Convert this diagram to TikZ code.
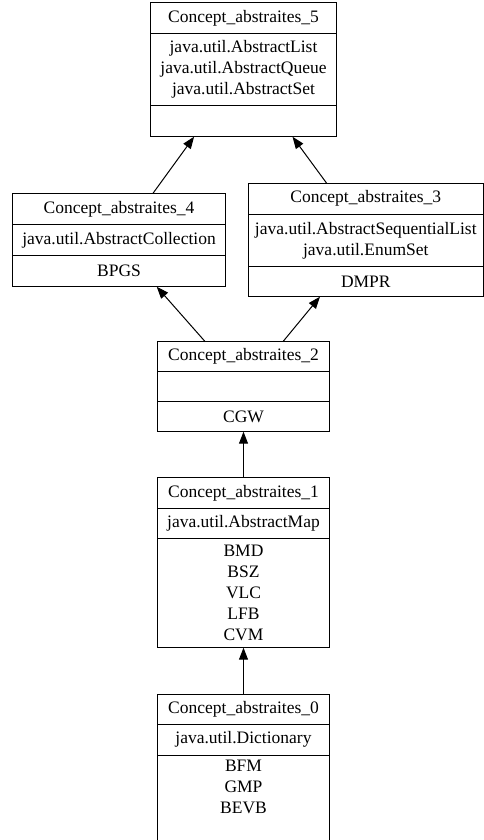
\documentclass[tikz,border=0pt]{standalone}
\usepackage{fontspec}
\setmainfont{Liberation Serif}
\usetikzlibrary{positioning,arrows.meta}

\begin{document}
\begin{tikzpicture}[x=1pt, y=-1pt,
    cell/.style={draw, rectangle, line width=1pt, inner sep=0pt, outer sep=0pt,
      align=center, font=\fontsize{17.5}{21}\selectfont},
    link/.style={line width=1pt, -{Triangle[length=12pt, width=9pt]}}]

  \useasboundingbox (0,0) rectangle (484,840);

  % Concept_abstraites_5
  \node[cell, anchor=north, minimum width=186pt, minimum height=30.6pt] (c5h) at (243.5,2.7) {Concept\_abstraites\_5};
  \node[cell, below=0pt of c5h, minimum width=186pt, minimum height=72.7pt] (c5a)
      {java.util.AbstractList\\java.util.AbstractQueue\\java.util.AbstractSet};
  \node[cell, below=0pt of c5a, minimum width=186pt, minimum height=30.7pt] (c5o) {};

  % Concept_abstraites_4
  \node[cell, anchor=north, minimum width=212.6pt, minimum height=31pt] (c4h) at (119,193.3) {Concept\_abstraites\_4};
  \node[cell, below=0pt of c4h, minimum width=212.6pt, minimum height=31.4pt] (c4a) {java.util.AbstractCollection};
  \node[cell, below=0pt of c4a, minimum width=212.6pt, minimum height=31pt] (c4o) {BPGS};

  % Concept_abstraites_3
  \node[cell, anchor=north, minimum width=235pt, minimum height=30.7pt] (c3h) at (365.8,183.3) {Concept\_abstraites\_3};
  \node[cell, below=0pt of c3h, minimum width=235pt, minimum height=52.7pt] (c3a)
      {java.util.AbstractSequentialList\\java.util.EnumSet};
  \node[cell, below=0pt of c3a, minimum width=235pt, minimum height=30pt] (c3o) {DMPR};

  % Concept_abstraites_2
  \node[cell, anchor=north, minimum width=172pt, minimum height=30pt] (c2h) at (243.5,341.7) {Concept\_abstraites\_2};
  \node[cell, below=0pt of c2h, minimum width=172pt, minimum height=30pt] (c2a) {};
  \node[cell, below=0pt of c2a, minimum width=172pt, minimum height=30pt] (c2o) {CGW};

  % Concept_abstraites_1
  \node[cell, anchor=north, minimum width=172pt, minimum height=31pt] (c1h) at (243.5,477.3) {Concept\_abstraites\_1};
  \node[cell, below=0pt of c1h, minimum width=172pt, minimum height=30pt] (c1a) {java.util.AbstractMap};
  \node[cell, below=0pt of c1a, minimum width=172pt, minimum height=109.4pt] (c1o)
      {BMD\\BSZ\\VLC\\LFB\\CVM};

  % Concept_abstraites_0 (runs off the bottom edge)
  \node[cell, anchor=north, minimum width=172pt, minimum height=30.3pt] (c0h) at (243.5,694) {Concept\_abstraites\_0};
  \node[cell, below=0pt of c0h, minimum width=172pt, minimum height=30.7pt] (c0a) {java.util.Dictionary};
  \node[cell, draw=none, below=0pt of c0a, minimum width=172pt, minimum height=64pt] (c0o)
      {BFM\\GMP\\BEVB};
  \draw[line width=1pt] (c0o.north west) -- ++(0,100);
  \draw[line width=1pt] (c0o.north east) -- ++(0,100);

  % Order
  \draw[link] ([xshift=34pt]c4h.north) -- ([xshift=-49.4pt]c5o.south);
  \draw[link] ([xshift=-39.1pt]c3h.north) -- ([xshift=49pt]c5o.south);
  \draw[link] ([xshift=-38.3pt]c2h.north) -- ([xshift=37.7pt]c4o.south);
  \draw[link] ([xshift=39.4pt]c2h.north) -- ([xshift=-45.8pt]c3o.south);
  \draw[link] (c1h.north) -- (c2o.south);
  \draw[link] (c0h.north) -- (c1o.south);

\end{tikzpicture}
\end{document}
